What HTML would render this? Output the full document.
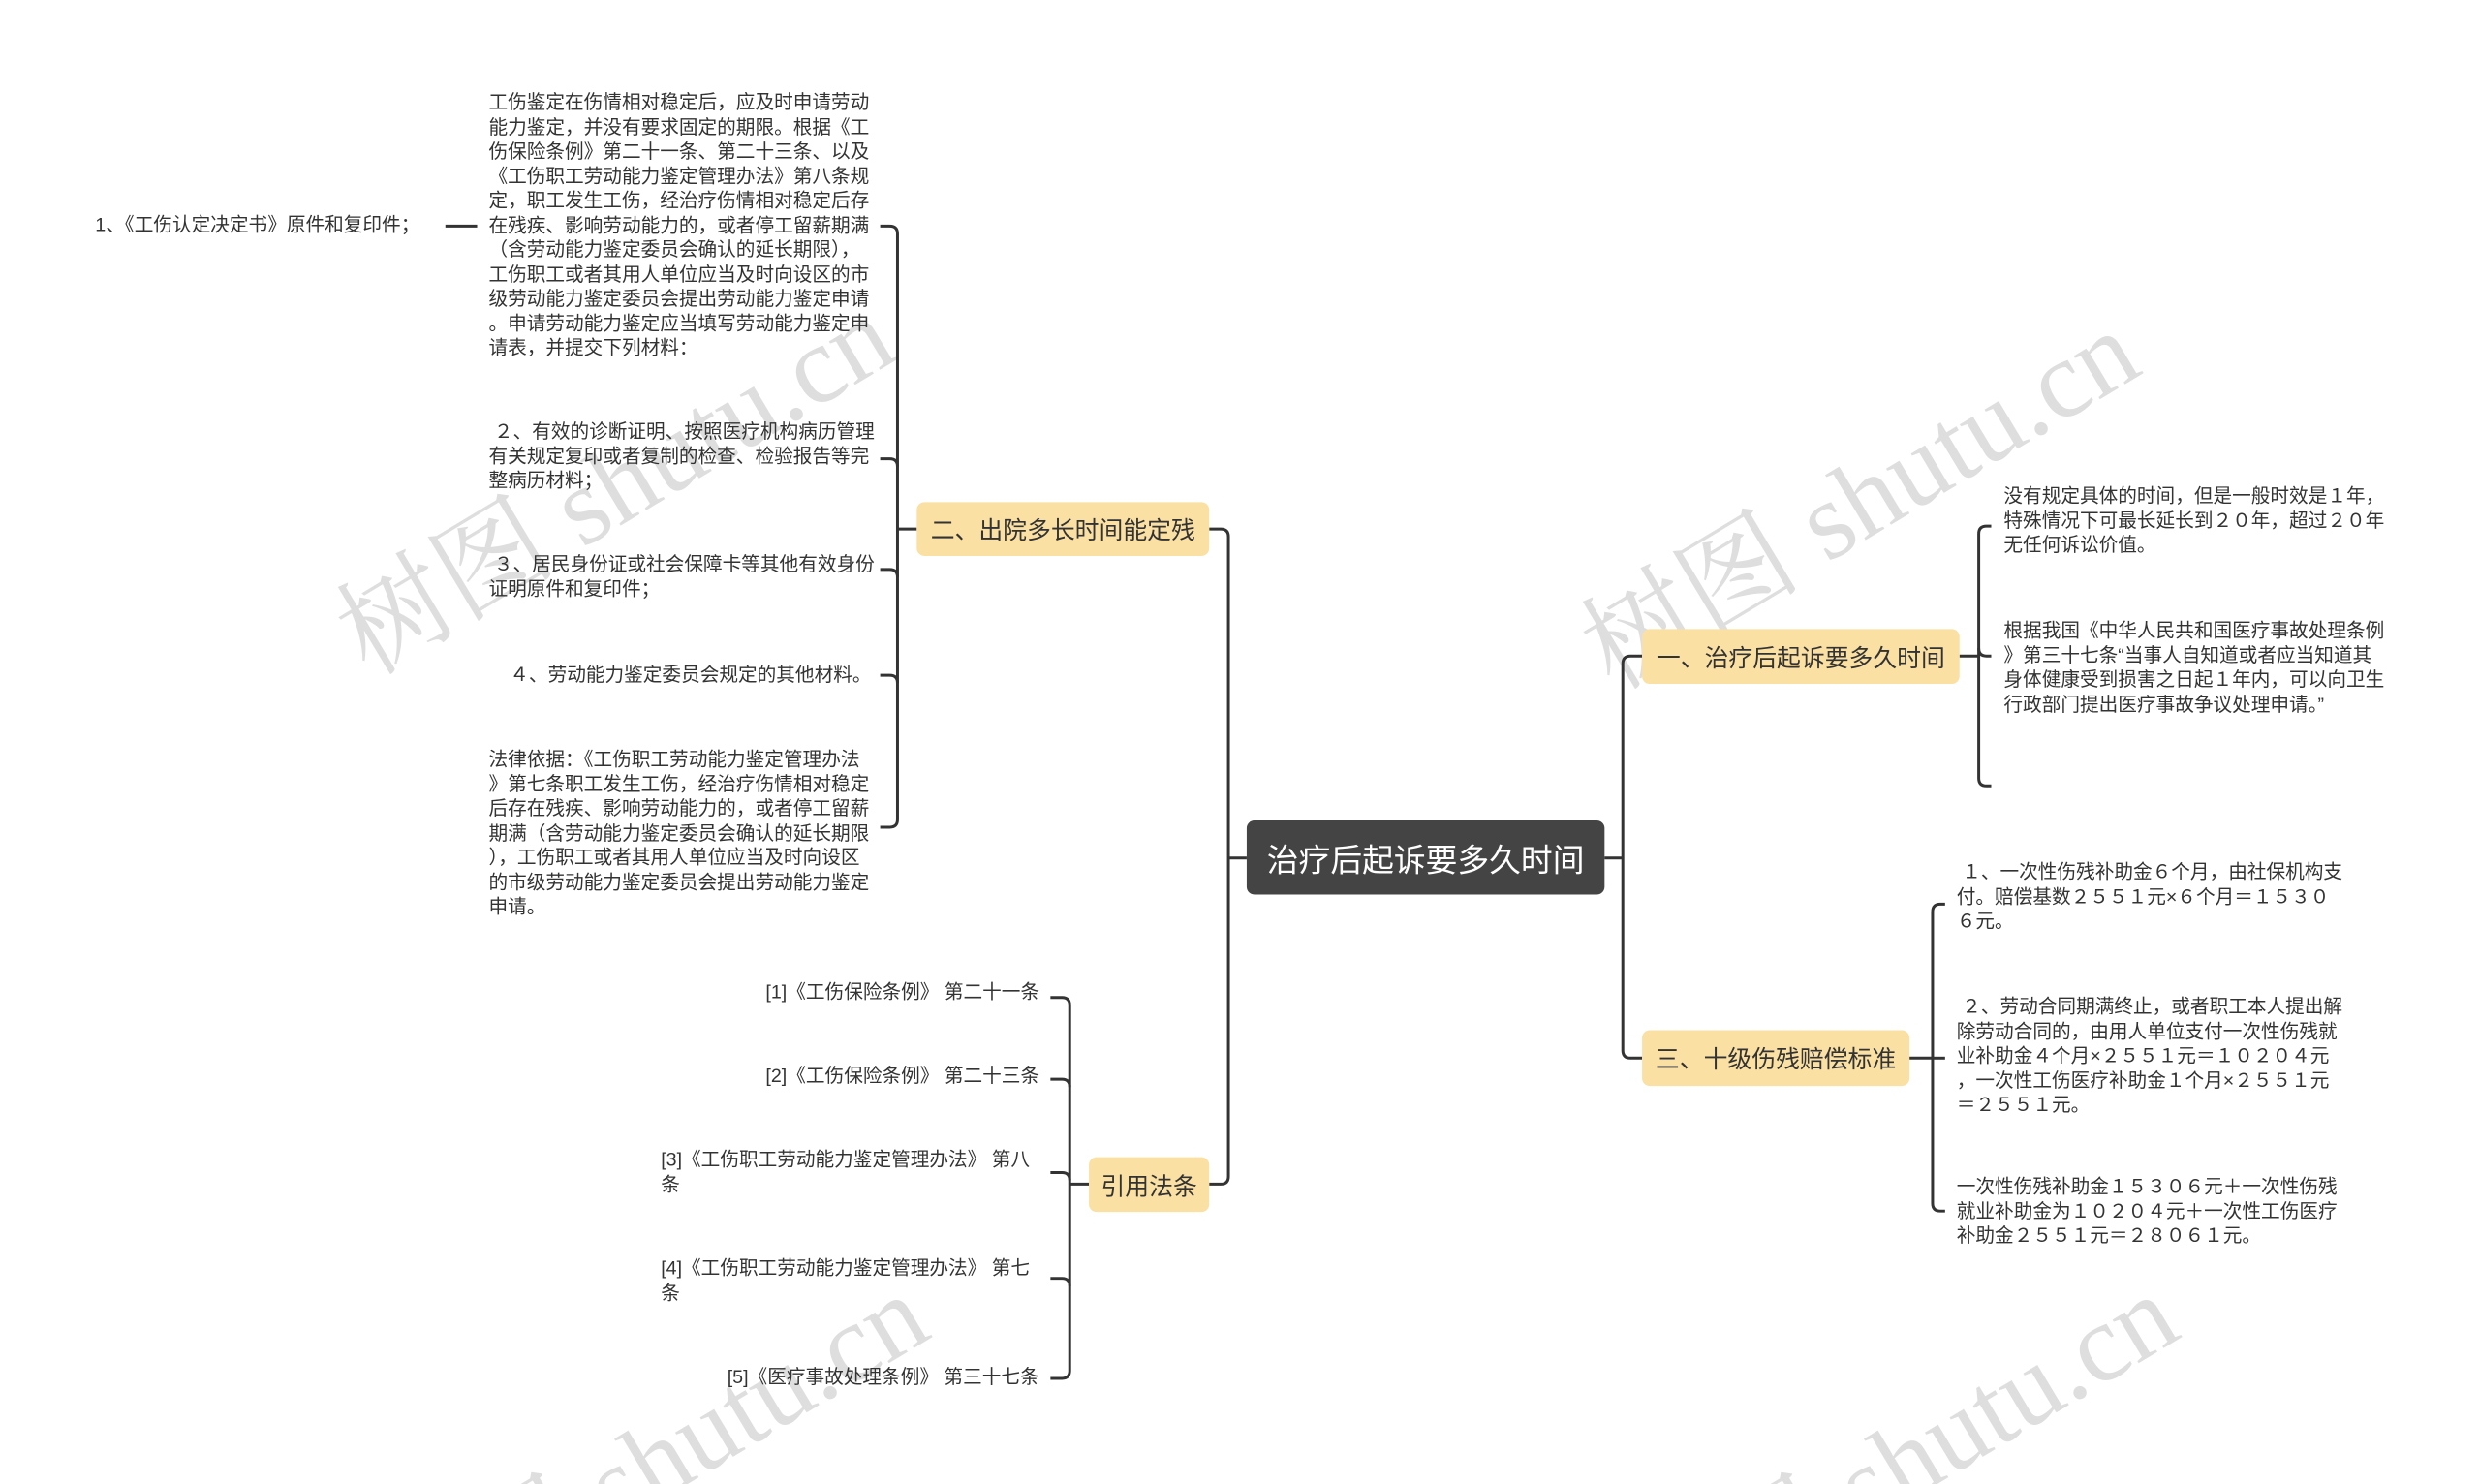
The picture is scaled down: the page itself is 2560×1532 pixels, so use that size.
<!DOCTYPE html>
<html style="margin:0;overflow:hidden;width:2560px;height:1532px"><head><meta charset="utf-8"><style>
body{margin:0;width:2560px;height:1532px;background:#fff;overflow:hidden;font-family:"Liberation Sans","Noto Sans CJK SC",sans-serif;color:#333}
#c{position:relative;width:2560px;height:1532px;overflow:hidden}
#s{position:absolute;left:0;top:0;width:2560px;height:1532px;transform:scale(0.993);transform-origin:0 0}
.t{position:absolute;font-size:19.8px;line-height:25.5px;white-space:nowrap}
.b{position:absolute;background:#fbe0a4;border-radius:8px;font-size:25px;display:flex;align-items:center;justify-content:center;color:#333}
.wm{position:absolute;font-size:114px;color:rgba(0,0,0,0.13);transform:rotate(-31deg);white-space:nowrap;font-family:"Liberation Serif","Noto Serif CJK SC",serif;transform-origin:center}
svg{position:absolute;left:0;top:0}
</style></head><body><div id="c">
<div class="wm" style="left:310px;top:410px">树图 shutu.cn</div>
<div class="wm" style="left:1595px;top:425px">树图 shutu.cn</div>
<div class="wm" style="left:345px;top:1420px">树图 shutu.cn</div>
<div class="wm" style="left:1635px;top:1420px">树图 shutu.cn</div>
<div id="s">
<svg width="2560" height="1532" fill="none" stroke="#333" stroke-width="3">
<path d="M1257,550 H1269 Q1277,550 1277,558 V1223 Q1277,1231 1269,1231 H1257"/>
<path d="M1277,892 H1296"/>
<path d="M1668,892 H1687"/>
<path d="M1707,682 H1695 Q1687,682 1687,690 V1092 Q1687,1100 1695,1100 H1707"/>
<path d="M953,550 H933"/>
<path d="M915,235 H925 Q933,235 933,243 V852 Q933,860 925,860 H915"/>
<path d="M915,477 H925 Q933,477 933,485"/><path d="M915,592 H925 Q933,592 933,600"/><path d="M915,702 H925 Q933,702 933,710"/>
<path d="M463,235 H496"/>
<path d="M1132,1231 H1112"/>
<path d="M1092,1037 H1104 Q1112,1037 1112,1045 V1425 Q1112,1433 1104,1433 H1092"/>
<path d="M1092,1122 H1104 Q1112,1122 1112,1130"/><path d="M1092,1219 H1104 Q1112,1219 1112,1227"/><path d="M1092,1329 H1104 Q1112,1329 1112,1337"/>
<path d="M2037,682 H2057"/>
<path d="M2070,547 H2065 Q2057,547 2057,555 V809 Q2057,817 2065,817 H2070"/>
<path d="M2057,674 Q2057,682 2065,682 H2070"/>
<path d="M1985,1100 H2009"/>
<path d="M2022,940 H2017 Q2009,940 2009,948 V1251 Q2009,1259 2017,1259 H2022"/>
<path d="M2009,1100 H2022"/>
</svg>
<div class="b" style="left:1296px;top:853px;width:372px;height:77px;background:#444;color:#fff;font-size:33px">治疗后起诉要多久时间</div>
<div class="b" style="left:953px;top:522px;width:304px;height:56px">二、出院多长时间能定残</div>
<div class="b" style="left:1132px;top:1203px;width:125px;height:57px">引用法条</div>
<div class="b" style="left:1707px;top:654px;width:330px;height:57px">一、治疗后起诉要多久时间</div>
<div class="b" style="left:1707px;top:1071px;width:278px;height:58px">三、十级伤残赔偿标准</div>

<div class="t" style="left:99px;top:222px">1、《工伤认定决定书》原件和复印件；</div>
<div class="t" style="left:508px;top:95px">工伤鉴定在伤情相对稳定后，应及时申请劳动<br>能力鉴定，并没有要求固定的期限。根据《工<br>伤保险条例》第二十一条、第二十三条、以及<br>《工伤职工劳动能力鉴定管理办法》第八条规<br>定，职工发生工伤，经治疗伤情相对稳定后存<br>在残疾、影响劳动能力的，或者停工留薪期满<br>（含劳动能力鉴定委员会确认的延长期限），<br>工伤职工或者其用人单位应当及时向设区的市<br>级劳动能力鉴定委员会提出劳动能力鉴定申请<br>。申请劳动能力鉴定应当填写劳动能力鉴定申<br>请表，并提交下列材料：</div>
<div class="t" style="left:508px;top:437px">&nbsp;２、有效的诊断证明、按照医疗机构病历管理<br>有关规定复印或者复制的检查、检验报告等完<br>整病历材料；</div>
<div class="t" style="left:508px;top:575px">&nbsp;３、居民身份证或社会保障卡等其他有效身份<br>证明原件和复印件；</div>
<div class="t" style="left:530px;top:690px">４、劳动能力鉴定委员会规定的其他材料。</div>
<div class="t" style="left:508px;top:778px">法律依据：《工伤职工劳动能力鉴定管理办法<br>》第七条职工发生工伤，经治疗伤情相对稳定<br>后存在残疾、影响劳动能力的，或者停工留薪<br>期满（含劳动能力鉴定委员会确认的延长期限<br>），工伤职工或者其用人单位应当及时向设区<br>的市级劳动能力鉴定委员会提出劳动能力鉴定<br>申请。</div>

<div class="t" style="left:796px;top:1020px">[1]《工伤保险条例》 第二十一条</div>
<div class="t" style="left:796px;top:1107px">[2]《工伤保险条例》 第二十三条</div>
<div class="t" style="left:687px;top:1194px">[3]《工伤职工劳动能力鉴定管理办法》 第八<br>条</div>
<div class="t" style="left:687px;top:1307px">[4]《工伤职工劳动能力鉴定管理办法》 第七<br>条</div>
<div class="t" style="left:756px;top:1420px">[5]《医疗事故处理条例》 第三十七条</div>

<div class="t" style="left:2083px;top:504px">没有规定具体的时间，但是一般时效是１年，<br>特殊情况下可最长延长到２０年，超过２０年<br>无任何诉讼价值。</div>
<div class="t" style="left:2083px;top:644px">根据我国《中华人民共和国医疗事故处理条例<br>》第三十七条“当事人自知道或者应当知道其<br>身体健康受到损害之日起１年内，可以向卫生<br>行政部门提出医疗事故争议处理申请。”</div>

<div class="t" style="left:2034px;top:895px">&nbsp;１、一次性伤残补助金６个月，由社保机构支<br>付。赔偿基数２５５１元×６个月＝１５３０<br>６元。</div>
<div class="t" style="left:2034px;top:1035px">&nbsp;２、劳动合同期满终止，或者职工本人提出解<br>除劳动合同的，由用人单位支付一次性伤残就<br>业补助金４个月×２５５１元＝１０２０４元<br>，一次性工伤医疗补助金１个月×２５５１元<br>＝２５５１元。</div>
<div class="t" style="left:2034px;top:1222px">一次性伤残补助金１５３０６元＋一次性伤残<br>就业补助金为１０２０４元＋一次性工伤医疗<br>补助金２５５１元＝２８０６１元。</div>
</div></div></body></html>
